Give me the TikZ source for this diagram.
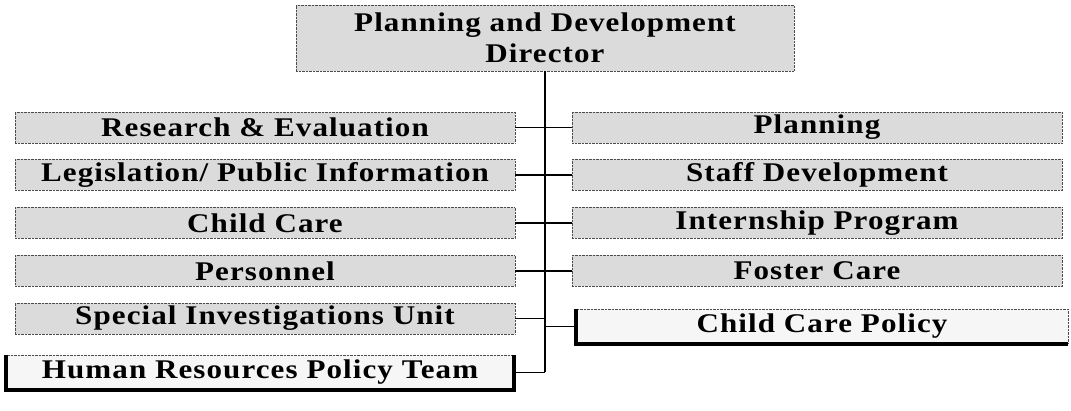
\documentclass[tikz,border=0pt]{standalone}
\usepackage{fontspec}
\setmainfont{Liberation Serif}[FakeStretch=1.15, LetterSpace=4]
\begin{document}
\begin{tikzpicture}[x=1pt,y=-1pt,
  box/.style={draw=black!70, densely dotted, fill=gray!28, inner sep=0pt,
    text=black, font=\fontsize{27}{31}\selectfont\bfseries},
  lbox/.style={box, minimum width=500pt, minimum height=31pt},
  rbox/.style={box, minimum width=490pt, minimum height=31pt},
  sbox/.style={box, fill=gray!7, minimum height=35pt},
  link/.style={draw=black, line width=1.4pt},
  spine/.style={draw=black, line width=2.6pt},
  shade/.style={draw=black, line width=4pt}]
\useasboundingbox (0,0) rectangle (1071,411);

\node[box, minimum width=498pt, minimum height=66pt, align=center] (dir) at (545,38)
  {Planning and Development\\Director};

\node[lbox] (re) at (265,127.5) {Research \& Evaluation};
\node[lbox] (le) at (265,175) {Legislation/ Public Information};
\node[lbox] (cc) at (265,223) {Child Care};
\node[lbox] (pe) at (265,271) {Personnel};
\node[lbox] (si) at (265,318.5) {Special Investigations Unit};
\node[sbox, minimum width=507pt] (hr) at (260,372.5) {Human Resources Policy Team};

\node[rbox] (pl) at (817,127.5) {Planning};
\node[rbox] (sd) at (817,175) {Staff Development};
\node[rbox] (ip) at (817,223) {Internship Program};
\node[rbox] (fc) at (817,271) {Foster Care};
\node[sbox, minimum width=492pt] (cp) at (822,326.5) {Child Care Policy};

\draw[shade] (hr.north west) -- (hr.south west) -- (hr.south east) -- (hr.north east);
\draw[shade] (cp.north west) -- (cp.south west) -- (cp.south east);

\coordinate (bend) at (545,372.5);
\draw[spine] (dir.south -| bend) -- (bend);
\draw[link] (bend) -- (hr.east);
\draw[link] (re.east) -- (pl.west);
\draw[link] (le.east) -- (sd.west);
\draw[link] (cc.east) -- (ip.west);
\draw[link] (pe.east) -- (fc.west);
\draw[link] (si.east) -- (si.east -| bend);
\draw[link] (cp.west) -- (cp.west -| bend);
\end{tikzpicture}
\end{document}
